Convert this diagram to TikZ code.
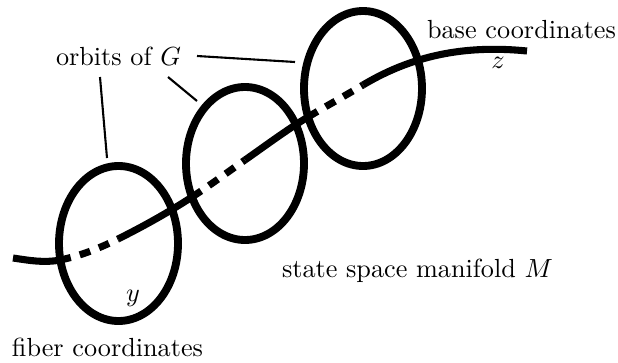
\documentclass[tikz,border=0pt]{standalone}
\usetikzlibrary{calc}
\begin{document}
\begin{tikzpicture}[x=0.3817pt,y=-0.3817pt,
  orbit/.style={line width=3pt},
  manif/.style={line width=2.7pt},
  hidden/.style={manif,dash pattern=on 4.2pt off 3.6pt},
  leader/.style={line width=0.8pt},
  lbl/.style={inner sep=0pt,outer sep=0pt}]
\useasboundingbox (0,0) rectangle (618,362);
% curve junction points
\coordinate (p0) at (13,258);
\coordinate (p1) at (60,260);
\coordinate (p2) at (118,239);
\coordinate (p3) at (192,197);
\coordinate (p4) at (245,160);
\coordinate (p5) at (308,117);
\coordinate (p6) at (363,85);
\coordinate (p7) at (527,51);
% manifold curve
\draw[manif] (p0) .. controls (28.67,260.35) and (44.33,263.13) .. (p1);
\draw[hidden] (p1) .. controls (79.33,256.13) and (98.67,248.67) .. (p2);
\draw[manif] (p2) .. controls (142.67,226.67) and (167.33,213.03) .. (p3);
\draw[hidden] (p3) .. controls (209.67,185.52) and (227.33,172.37) .. (p4);
\draw[manif] (p4) .. controls (266,145.3) and (287,129.6) .. (p5);
\draw[hidden] (p5) .. controls (326.33,106) and (344.67,96) .. (p6);
\draw[manif] (p6) .. controls (417.67,52.2) and (472.33,45.53) .. (p7);
% orbits
\coordinate (e1) at (118.5,243.5);
\coordinate (e2) at (245,163.5);
\coordinate (e3) at (363,88.5);
\draw[orbit] (e1) ellipse [x radius=59.5, y radius=77.5];
\draw[orbit] (e2) ellipse [x radius=59, y radius=76.5];
\draw[orbit] (e3) ellipse [x radius=59, y radius=77.5];
% labels
\node[lbl,anchor=base west] (orb) at (56,65) {orbits of $G$};
\node[lbl,anchor=base] (base) at (521.5,38) {base coordinates};
\node[lbl,anchor=base] (zl) at (498,68) {$z$};
\node[lbl,anchor=base] (yl) at (133,301) {$y$};
\node[lbl,anchor=base west] (fib) at (12,356) {fiber coordinates};
\node[lbl,anchor=base west] (sm) at (282,277) {state space manifold $M$};
% leaders
\coordinate (l1a) at (100,77);
\coordinate (l1b) at (107,158);
\coordinate (l2a) at (168,77);
\coordinate (l2b) at (197,101);
\coordinate (l3a) at (197,56);
\coordinate (l3b) at (295,62);
\draw[leader] (l1a) -- (l1b);
\draw[leader] (l2a) -- (l2b);
\draw[leader] (l3a) -- (l3b);
\end{tikzpicture}
\end{document}
